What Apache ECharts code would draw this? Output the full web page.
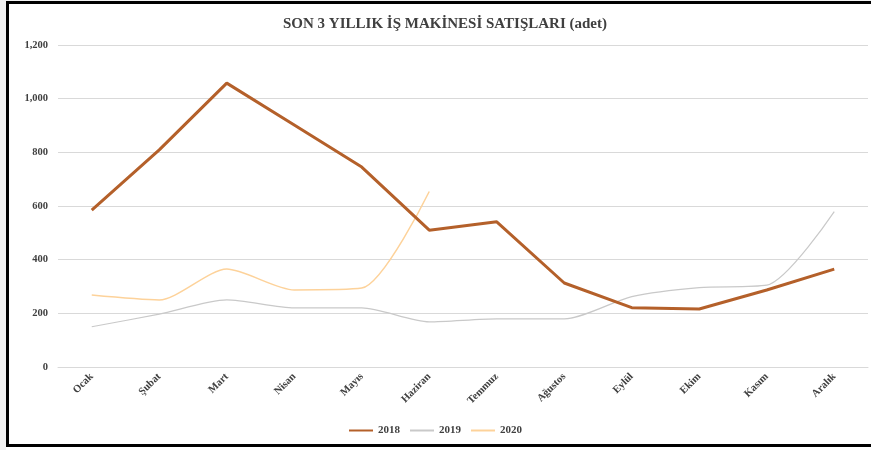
<!DOCTYPE html>
<html><head><meta charset="utf-8">
<script src="https://cdn.jsdelivr.net/npm/echarts@6/dist/echarts.min.js"></script>
<style>
html,body{margin:0;padding:0;background:#f2f2f2;overflow:hidden;width:871px;height:450px;}
#bg{position:absolute;left:6px;top:1px;width:865px;height:449px;background:#fff;}
#c{position:absolute;left:0;top:0;width:871px;height:450px;}
.b{position:absolute;background:#000;pointer-events:none;}
</style></head>
<body>
<div id="bg"></div>
<div id="c"></div>
<div class="b" style="left:6px;top:1px;width:865px;height:3px;"></div>
<div class="b" style="left:6px;top:1px;width:3px;height:446px;"></div>
<div class="b" style="left:6px;top:444px;width:865px;height:3px;"></div>
<script>
const categories = ['Ocak','Şubat','Mart','Nisan','Mayıs','Haziran','Temmuz','Ağustos','Eylül','Ekim','Kasım','Aralık'];
const s2018 = [585, 809, 1058, 902, 745, 510, 541, 313, 221, 216, 287, 365];
const s2019 = [150, 197, 250, 220, 220, 168, 179, 179, 262, 296, 305, 579];
const s2020 = [268, 250, 365, 287, 294, 654];
const yTicks = [0, 200, 400, 600, 800, 1000, 1200];

const chart = echarts.init(document.getElementById('c'), null, {renderer:'canvas'});
chart.setOption({
  backgroundColor: 'transparent',
  animation: false,
  title: {
    text: 'SON 3 YILLIK İŞ MAKİNESİ SATIŞLARI (adet)',
    left: 440, top: 12, textAlign: 'center',
    textStyle: {fontFamily: 'Liberation Serif', fontWeight: 'bold', fontSize: 15, color: '#404040'}
  },
  legend: {
    bottom: 9, left: 'center',
    itemWidth: 24, itemHeight: 8, itemGap: 10,
    icon: 'path://M0,0 L24,0 L24,2 L0,2 Z',
    textStyle: {fontFamily: 'Liberation Serif', fontSize: 11, fontWeight: 'bold', color: '#404040'},
    data: ['2018','2019','2020']
  },
  grid: {left: 58, right: 3, top: 45, bottom: 83, containLabel: false},
  xAxis: {
    type: 'category', data: categories, boundaryGap: true,
    axisLine: {show: true, lineStyle: {color: '#d9d9d9'}},
    axisTick: {show: false},
    axisLabel: {rotate: 45, fontFamily: 'Liberation Serif', fontSize: 10.5, fontWeight: 'bold', color: '#404040', margin: 8}
  },
  yAxis: {
    type: 'value', min: yTicks[0], max: yTicks[yTicks.length-1], interval: 200,
    axisLine: {show: false}, axisTick: {show: false},
    splitLine: {lineStyle: {color: '#d9d9d9', width: 1}},
    axisLabel: {fontFamily: 'Liberation Serif', fontSize: 10.5, fontWeight: 'bold', color: '#404040', margin: 10,
      formatter: v => v.toLocaleString('en-US')}
  },
  series: [
    {name: '2018', type: 'line', data: s2018, smooth: false, symbol: 'none',
     lineStyle: {color: '#b4602a', width: 3}, itemStyle: {color: '#b4602a'}, z: 3},
    {name: '2019', type: 'line', data: s2019, smooth: 0.25, symbol: 'none',
     lineStyle: {color: '#c9c9c9', width: 1.2}, itemStyle: {color: '#c9c9c9'}, z: 1},
    {name: '2020', type: 'line', data: s2020, smooth: 0.25, symbol: 'none',
     lineStyle: {color: '#fdd29a', width: 1.5}, itemStyle: {color: '#fdd29a'}, z: 2}
  ]
});
</script>
</body></html>
